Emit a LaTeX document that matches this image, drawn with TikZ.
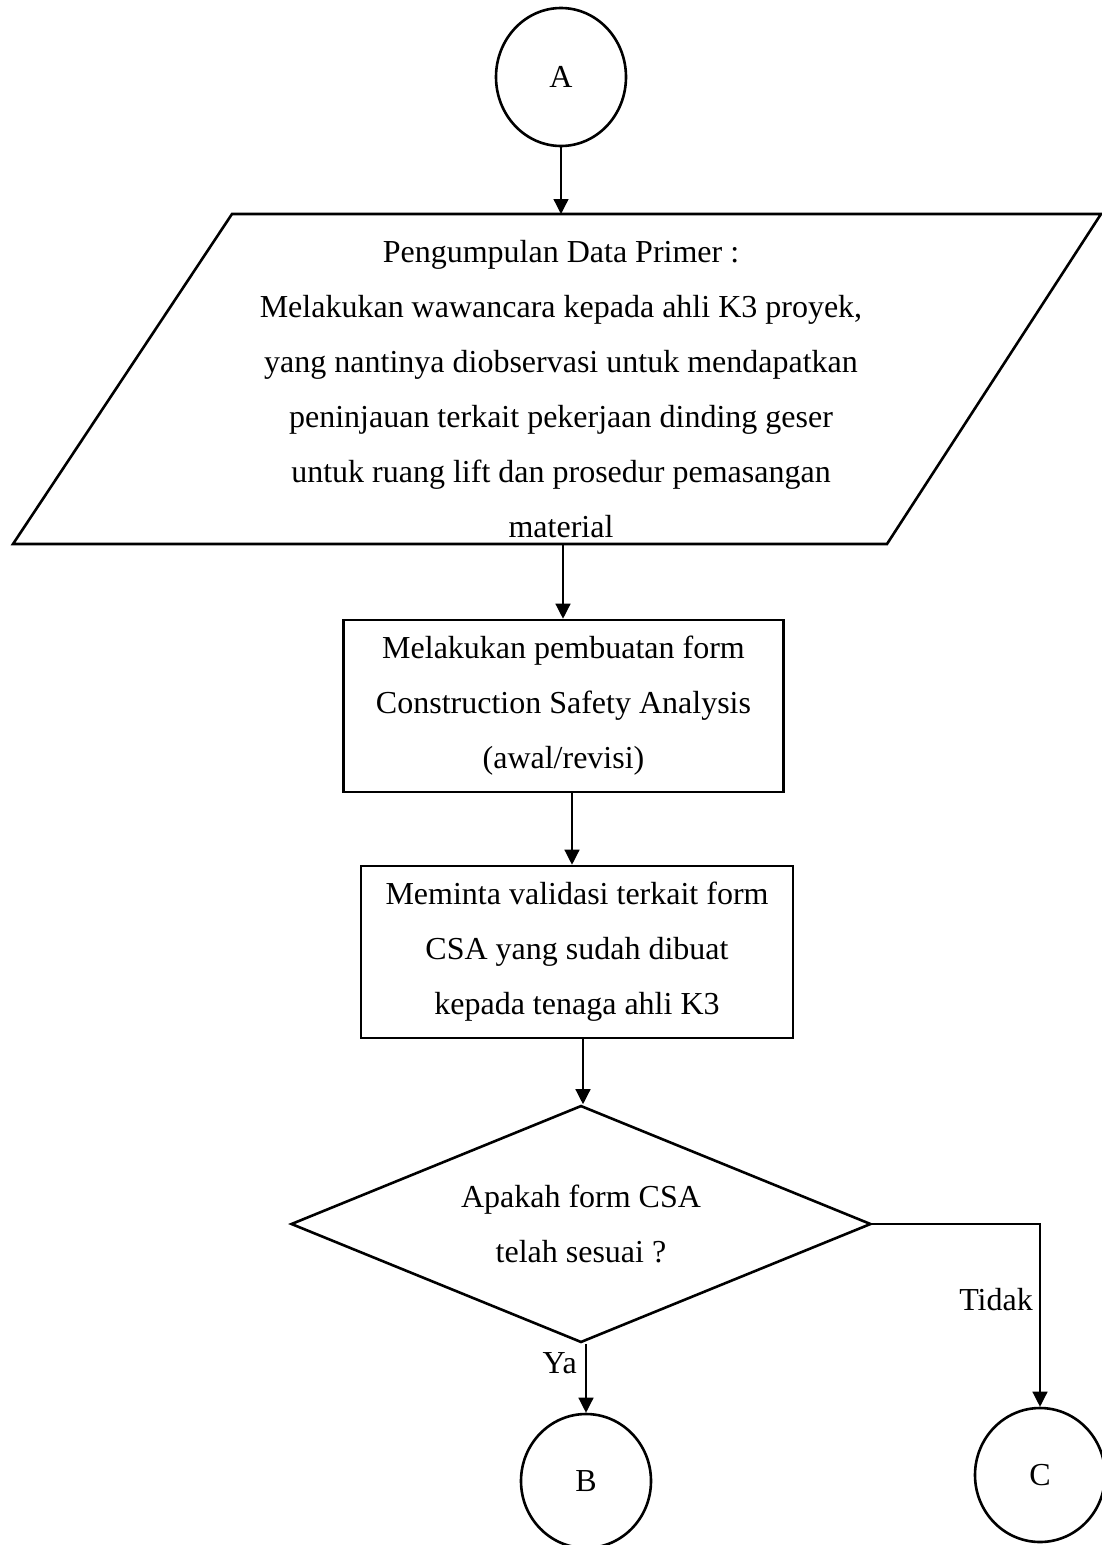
\documentclass[tikz,border=0pt]{standalone}
\usepackage{fontspec}
\setmainfont{Liberation Serif}
\usetikzlibrary{shapes.geometric,arrows.meta}
\begin{document}
\begin{tikzpicture}[x=1pt,y=-1pt,
  shapeline/.style={draw=black,line width=2.6pt},
  conn/.style={draw=black,line width=1.3pt},
  arr/.style={conn,-{Triangle[length=15pt,width=15pt]}},
  txt/.style={font=\fontsize{32}{55}\selectfont,align=center,inner sep=0pt},
  boxnode/.style={shapeline,rectangle,txt,minimum height=172pt},
  conn/.append style={},
]
\useasboundingbox[fill=white] (0,0) rectangle (1101,1545);

% Circle A
\node[shapeline,ellipse,minimum width=130pt,minimum height=138pt,txt] (A) at (561,77) {A};

% Parallelogram
\coordinate (ptl) at (232,214);
\coordinate (ptr) at (1101,214);
\coordinate (pbr) at (887,544);
\coordinate (pbl) at (13,544);
\draw[shapeline,line join=miter] (ptl) -- (ptr) -- (pbr) -- (pbl) -- cycle;
\node[txt] (P) at (561,389) {Pengumpulan Data Primer :\\
Melakukan wawancara kepada ahli K3 proyek,\\
yang nantinya diobservasi untuk mendapatkan\\
peninjauan terkait pekerjaan dinding geser\\
untuk ruang lift dan prosedur pemasangan\\
material};

% Boxes
\node[boxnode,minimum width=440pt] (B1) at (563.5,706) {Melakukan pembuatan form\\Construction Safety Analysis\\(awal/revisi)};
\node[boxnode,minimum width=432pt] (B2) at (577,952) {Meminta validasi terkait form\\CSA yang sudah dibuat\\kepada tenaga ahli K3};

% Diamond
\node[shapeline,diamond,aspect=2.45,minimum width=580pt,minimum height=237pt,txt] (D) at (581,1224) {Apakah form CSA\\telah sesuai ?};

% Circles B and C
\node[shapeline,ellipse,minimum width=130pt,minimum height=134pt,txt] (CB) at (586,1481) {B};
\node[shapeline,ellipse,minimum width=130pt,minimum height=134pt,txt] (CC) at (1040,1475) {C};

% connectors
\coordinate (x1) at (561,0);
\coordinate (x2) at (563,0);
\coordinate (x3) at (572,0);
\coordinate (x4) at (583,0);
\draw[arr] (A.south) -- (x1 |- ptl);
\draw[arr] (x2 |- pbl) -- (x2 |- B1.north);
\draw[arr] (x3 |- B1.south) -- (x3 |- B2.north);
\draw[arr] (x4 |- B2.south) -- (x4 |- D.north);
\draw[arr] (CB.north |- D.south) -- (CB.north);
\draw[arr] (D.east) -| (CC.north);

% labels
\node[txt,anchor=east] (ya) at (577,1363) {Ya};
\node[txt,anchor=east] (tidak) at (1033,1300) {Tidak};
\end{tikzpicture}
\end{document}
